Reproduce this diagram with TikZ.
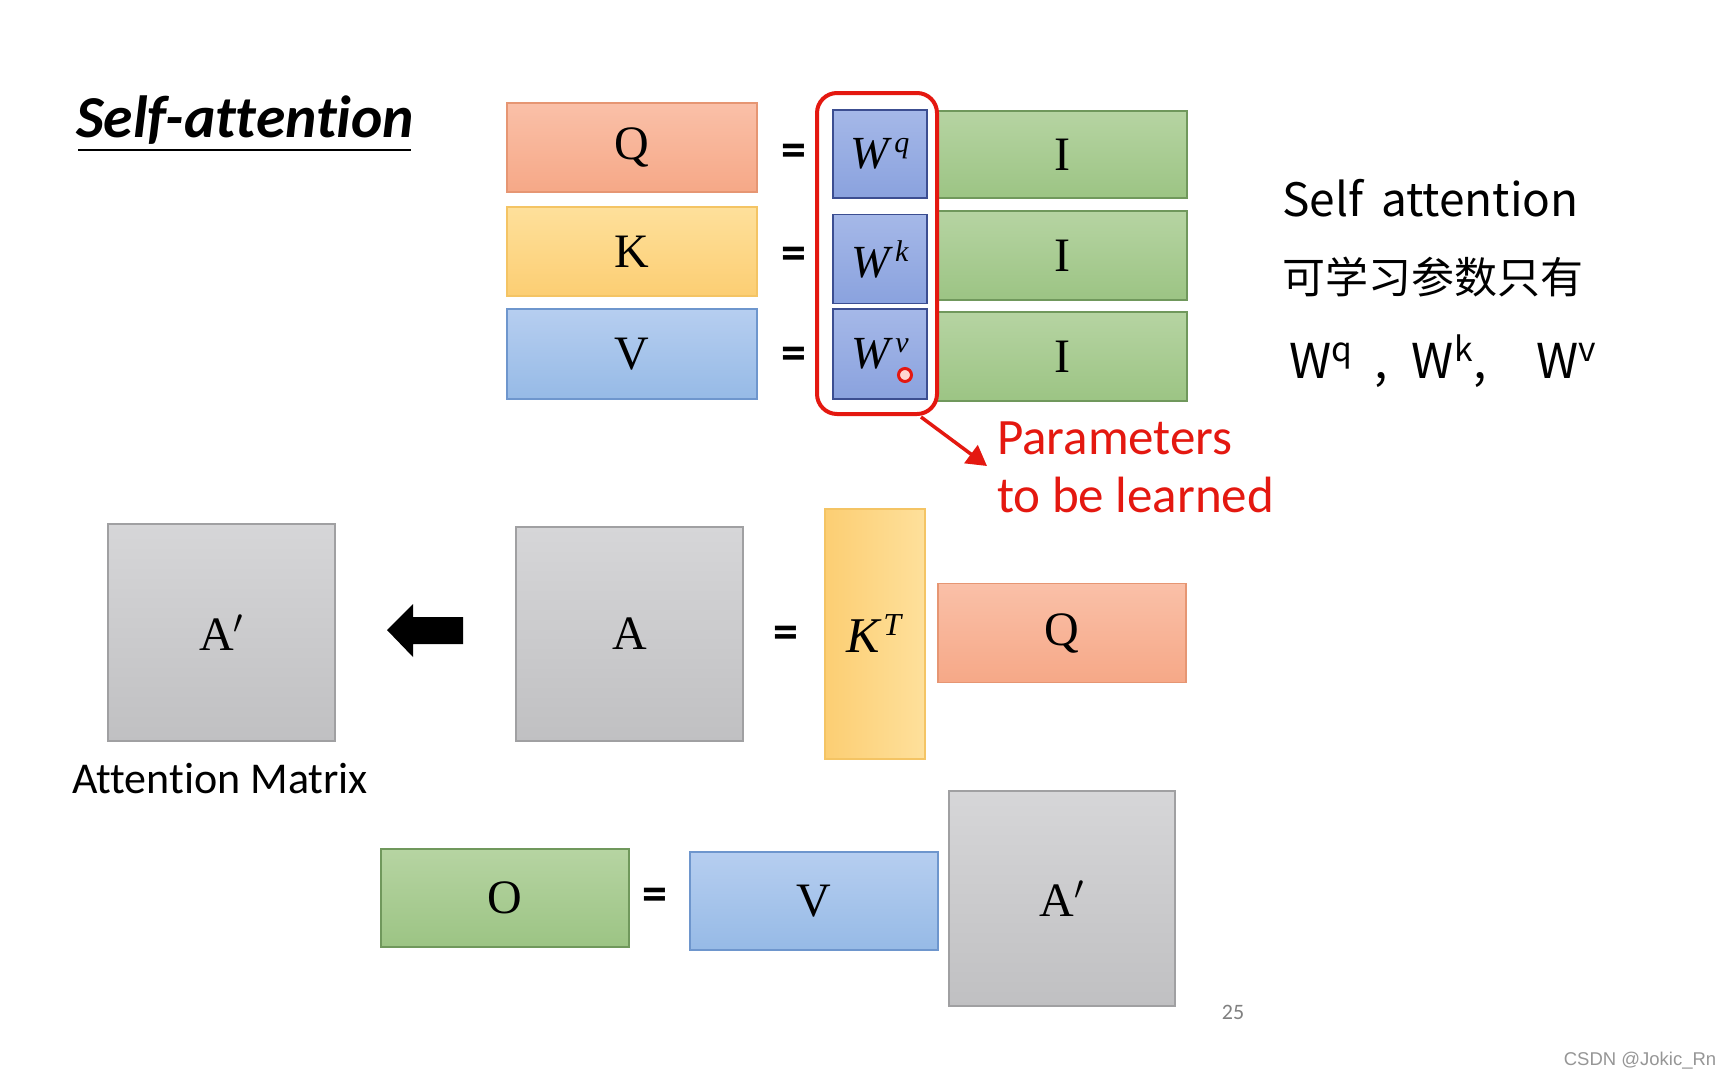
\RequirePackage{fix-cm}
\documentclass[tikz,border=0pt]{standalone}
\usepackage{fontspec}
\newfontfamily\calfont[Ligatures={NoCommon}]{Carlito}
\newfontfamily\cjkfont{Noto Sans CJK SC}
\newfontfamily\arialfont{Liberation Sans}
\newfontfamily\letterfont{Liberation Serif}
\usetikzlibrary{arrows.meta}
\definecolor{qtop}{RGB}{250,192,168}
\definecolor{qbot}{RGB}{246,168,135}
\definecolor{qline}{RGB}{230,150,115}
\definecolor{ktop}{RGB}{254,224,155}
\definecolor{kbot}{RGB}{252,206,115}
\definecolor{kline}{RGB}{244,196,100}
\definecolor{vtop}{RGB}{182,206,240}
\definecolor{vbot}{RGB}{150,186,230}
\definecolor{vline}{RGB}{110,150,205}
\definecolor{wtop}{RGB}{165,184,232}
\definecolor{wbot}{RGB}{138,162,222}
\definecolor{wline}{RGB}{60,78,145}
\definecolor{gtop}{RGB}{182,212,162}
\definecolor{gbot}{RGB}{156,196,132}
\definecolor{gline}{RGB}{112,152,92}
\definecolor{atop}{RGB}{214,214,216}
\definecolor{abot}{RGB}{192,192,194}
\definecolor{aline}{RGB}{160,160,162}
\definecolor{pred}{RGB}{228,24,16}
\definecolor{pgray}{RGB}{128,128,128}
\definecolor{wmgray}{RGB}{150,150,150}
\newcommand{\wsym}[1]{\textit{W}\kern2pt\raisebox{16pt}{\fontsize{30}{30}\selectfont\textit{#1}}}
\begin{document}
\begin{tikzpicture}[x=1pt,y=-1pt,
  mat/.style={draw, line width=1.5pt, inner sep=0pt, text=black, font=\letterfont\fontsize{48}{60}\selectfont},
  qm/.style={mat, top color=qtop, bottom color=qbot, draw=qline},
  km/.style={mat, top color=ktop, bottom color=kbot, draw=kline},
  vm/.style={mat, top color=vtop, bottom color=vbot, draw=vline},
  wm/.style={mat, top color=wtop, bottom color=wbot, draw=wline, font=\letterfont\fontsize{46}{50}\selectfont},
  gm/.style={mat, top color=gtop, bottom color=gbot, draw=gline},
  am/.style={mat, top color=atop, bottom color=abot, draw=aline},
  ktm/.style={mat, left color=kbot, right color=ktop, draw=kline, font=\letterfont\fontsize{50}{50}\selectfont},
  eqs/.style={inner sep=0pt, font=\calfont\bfseries\fontsize{50}{60}\selectfont},
  learnbox/.style={draw=pred, line width=4pt, rounded corners=20pt, inner sep=0pt},
  redarrow/.style={draw=pred, line width=3.5pt, -{Triangle[length=20pt,width=22pt]}},
  hand/.style={inner sep=0pt, anchor=west, font=\cjkfont\fontsize{44}{50}\selectfont}
]
\useasboundingbox[fill=white] (0,0) rectangle (1728,1080);

% title
\node[anchor=base west, inner sep=0pt, font=\calfont\bfseries\itshape\fontsize{59.5}{60}\selectfont] (title) at (76,137) {Self-attention};
\coordinate (ulA) at (78,150);
\coordinate (ulB) at (411,150);
\draw[line width=2pt] (ulA) -- (ulB);

% top rows
\node[qm, minimum width=250pt, minimum height=89pt] (Q) at (632,147.5) {Q};
\node[km, minimum width=250pt, minimum height=89pt] (K) at (632,251.5) {K};
\node[vm, minimum width=250pt, minimum height=90pt] (V) at (632,354) {V};
\node[eqs] (e1) at (794,155) {=};
\node[eqs] (e2) at (794,258) {=};
\node[eqs] (e3) at (794,358) {=};
\node[wm, minimum width=94pt, minimum height=88pt] (Wq) at (880,154) {\wsym{q}};
\node[wm, minimum width=94pt, minimum height=89pt] (Wk) at (880,259) {\wsym{k}};
\node[wm, minimum width=94pt, minimum height=90pt] (Wv) at (880,354) {\wsym{v}};
\node[gm, minimum width=250pt, minimum height=87pt] (Iq) at (1062,154.5) {I};
\node[gm, minimum width=250pt, minimum height=89pt] (Ik) at (1062,255.5) {I};
\node[gm, minimum width=250pt, minimum height=89pt] (Iv) at (1062,356.5) {I};

% laser pointer mark
\node[circle, draw=pred, fill={rgb,255:red,255;green,215;blue,210}, line width=3pt, minimum size=13pt, inner sep=0pt] (dot) at (905,375) {};

% parameters to be learned
\node[learnbox, minimum width=120pt, minimum height=321pt] (learn) at (877,253.5) {};
\coordinate (pa) at (921,417);
\coordinate (pb) at (987,466);
\draw[redarrow] (pa) -- (pb);
\node[anchor=west, align=left, inner sep=0pt, text=pred, font=\calfont\fontsize{51}{58}\selectfont] (param) at (997,467) {Parameters\\to be learned};

% handwritten note
\node[hand, font=\cjkfont\fontsize{46}{50}\selectfont] (h1) at (1282,198) {Self\hspace{18pt}attention};
\node[hand, font=\cjkfont\fontsize{43}{50}\selectfont] (h2) at (1282,277) {可学习参数只有};
\node[hand, font=\cjkfont\fontsize{48}{50}\selectfont] (h3) at (1289,361) {W\textsuperscript{q}\hspace{22pt},\hspace{24pt}W\textsuperscript{k},\hspace{50pt}W\textsuperscript{v}};

% attention row
\node[am, minimum width=227pt, minimum height=217pt] (Ap1) at (221.5,632.5) {A$'$};
\fill (387,630) -- (413,604) -- (413,617) -- (463,617) -- (463,644) -- (413,644) -- (413,657) -- cycle;
\node[am, minimum width=227pt, minimum height=214pt] (A) at (629.5,634) {A};
\node[eqs] (e4) at (786,637) {=};
\node[ktm, minimum width=100pt, minimum height=250pt] (KT) at (875,634) {\textit{K}\kern1pt\raisebox{17pt}{\fontsize{32}{32}\selectfont\textit{T}}};
\node[qm, minimum width=248pt, minimum height=99pt] (Qb) at (1062,633) {Q};
\node[anchor=base, inner sep=0pt, font=\calfont\fontsize{44}{50}\selectfont] (amx) at (220,793) {Attention Matrix};

% output row
\node[gm, minimum width=248pt, minimum height=98pt] (O) at (505,898) {O};
\node[eqs] (e5) at (655,899) {=};
\node[vm, minimum width=248pt, minimum height=98pt] (Vb) at (814,901) {V};
\node[am, minimum width=226pt, minimum height=215pt] (Ap2) at (1062,898.5) {A$'$};

% footer
\node[inner sep=0pt, text=pgray, font=\calfont\fontsize{22}{24}\selectfont] (pg) at (1233,1012) {25};
\node[inner sep=0pt, text=wmgray, font=\arialfont\fontsize{18.5}{20}\selectfont] (csdn) at (1640,1061) {CSDN @Jokic\_Rn};
\end{tikzpicture}
\end{document}
